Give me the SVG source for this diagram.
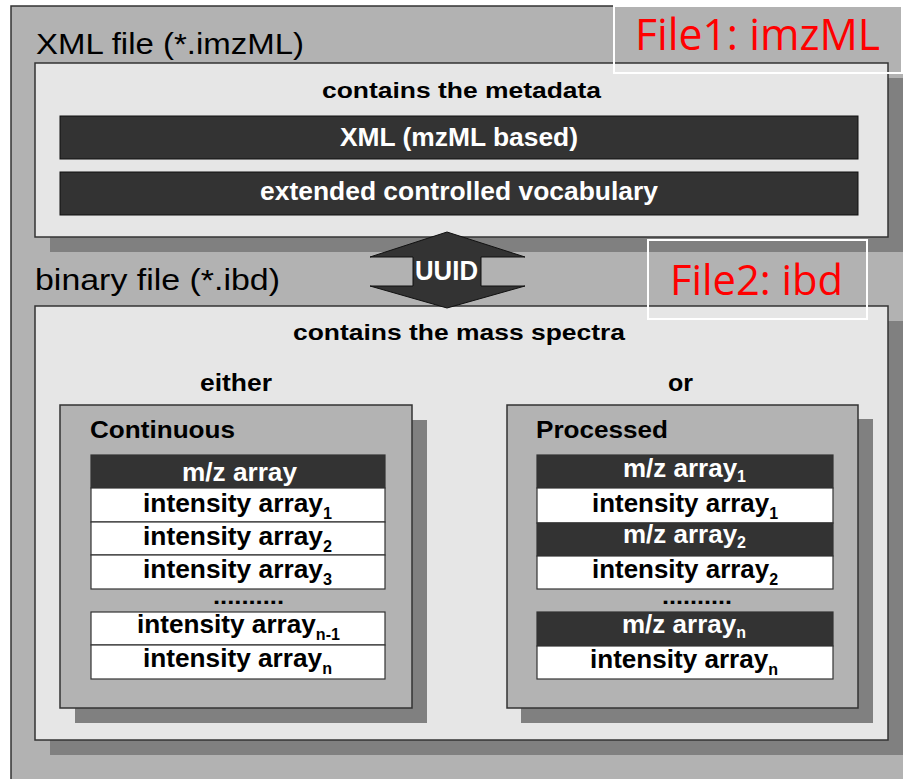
<svg xmlns="http://www.w3.org/2000/svg" width="903" height="779" viewBox="0 0 903 779">
<style>
.frame{fill:#b2b2b2;stroke:#333;stroke-width:1.5}
.panel{fill:#e6e6e6;stroke:#333;stroke-width:1.5}
.shadow{fill:#808080}
.box{fill:#b3b3b3;stroke:#333;stroke-width:1.5}
.bar{fill:#333;stroke:#111;stroke-width:1}
.row{fill:#fff;stroke:#333;stroke-width:1.2}
.drow{fill:#333;stroke:#333;stroke-width:1.2}
.lbl{fill:none;stroke:#fff;stroke-width:2}
text{font-family:"Liberation Sans",Arial,sans-serif}
.h{font-size:30px;fill:#000}
.b{font-weight:bold;fill:#000}
.w{font-weight:bold;fill:#fff}
.t{font-size:26px}
.red{font-family:"Open Sans","Noto Sans",sans-serif;fill:#f00}
.sub{font-size:16px}
</style>
<rect width="903" height="779" fill="#fff"/>
<g id="frame">
<rect class="frame" x="11" y="6" width="900" height="790"/>
</g>
<g id="xml-file">
<text class="h" x="36" y="54" textLength="268" lengthAdjust="spacingAndGlyphs">XML file (*.imzML)</text>
<rect class="shadow" x="50" y="78" width="860" height="174"/>
<rect class="panel" x="35" y="63" width="853" height="174"/>
<text class="b" x="322" y="98" font-size="22" textLength="279" lengthAdjust="spacingAndGlyphs">contains the metadata</text>
<g id="xml-bar">
<rect class="bar" x="60" y="116" width="798" height="43"/>
<text class="w" x="340" y="146" font-size="25" textLength="238" lengthAdjust="spacingAndGlyphs">XML (mzML based)</text>
</g>
<g id="vocab-bar">
<rect class="bar" x="60" y="172" width="798" height="43"/>
<text class="w" x="260" y="200" font-size="25" textLength="398" lengthAdjust="spacingAndGlyphs">extended controlled vocabulary</text>
</g>
</g>
<g id="binary-file">
<text class="h" x="35" y="290" textLength="245" lengthAdjust="spacingAndGlyphs">binary file (*.ibd)</text>
<rect class="shadow" x="50" y="321" width="860" height="434"/>
<rect class="panel" x="35" y="306" width="853" height="434"/>
<text class="b" x="293" y="340" font-size="22" textLength="332" lengthAdjust="spacingAndGlyphs">contains the mass spectra</text>
<text class="b" x="200" y="391" font-size="23" textLength="72" lengthAdjust="spacingAndGlyphs">either</text>
<text class="b" x="668" y="391" font-size="23" textLength="25" lengthAdjust="spacingAndGlyphs">or</text>
</g>
<g id="continuous">
<rect class="shadow" x="75" y="420" width="352" height="303"/>
<rect class="box" x="60" y="405" width="352" height="303"/>
<text class="b" x="90" y="438" font-size="23" textLength="145" lengthAdjust="spacingAndGlyphs">Continuous</text>
<rect class="drow" x="91" y="455" width="294" height="33"/>
<rect class="row" x="91" y="488" width="294" height="34"/>
<rect class="row" x="91" y="522" width="294" height="33"/>
<rect class="row" x="91" y="555" width="294" height="34"/>
<rect class="row" x="91" y="612" width="294" height="33"/>
<rect class="row" x="91" y="645" width="294" height="34"/>
<text class="w t" x="182" y="481" textLength="115" lengthAdjust="spacingAndGlyphs">m/z array</text>
<text class="b t" x="143" y="512" textLength="189" lengthAdjust="spacingAndGlyphs">intensity array<tspan class="sub" dy="7">1</tspan></text>
<text class="b t" x="143" y="545" textLength="189" lengthAdjust="spacingAndGlyphs">intensity array<tspan class="sub" dy="7">2</tspan></text>
<text class="b t" x="143" y="578" textLength="189" lengthAdjust="spacingAndGlyphs">intensity array<tspan class="sub" dy="7">3</tspan></text>
<text class="b" x="213" y="604" font-size="22" textLength="71" lengthAdjust="spacingAndGlyphs">..........</text>
<text class="b t" x="137" y="633" textLength="203" lengthAdjust="spacingAndGlyphs">intensity array<tspan class="sub" dy="7">n-1</tspan></text>
<text class="b t" x="143" y="667" textLength="189" lengthAdjust="spacingAndGlyphs">intensity array<tspan class="sub" dy="7">n</tspan></text>
</g>
<g id="processed">
<rect class="shadow" x="521" y="419" width="352" height="304"/>
<rect class="box" x="507" y="405" width="351" height="303"/>
<text class="b" x="536" y="438" font-size="23" textLength="132" lengthAdjust="spacingAndGlyphs">Processed</text>
<rect class="drow" x="537" y="455" width="296" height="33"/>
<rect class="row" x="537" y="488" width="296" height="35"/>
<rect class="drow" x="537" y="523" width="296" height="33"/>
<rect class="row" x="537" y="556" width="296" height="33"/>
<rect class="drow" x="537" y="612" width="296" height="34"/>
<rect class="row" x="537" y="646" width="296" height="33"/>
<text class="w t" x="623" y="477" textLength="123" lengthAdjust="spacingAndGlyphs">m/z array<tspan class="sub" dy="5">1</tspan></text>
<text class="b t" x="592" y="512" textLength="186" lengthAdjust="spacingAndGlyphs">intensity array<tspan class="sub" dy="7">1</tspan></text>
<text class="w t" x="623" y="543" textLength="123" lengthAdjust="spacingAndGlyphs">m/z array<tspan class="sub" dy="5">2</tspan></text>
<text class="b t" x="592" y="578" textLength="186" lengthAdjust="spacingAndGlyphs">intensity array<tspan class="sub" dy="7">2</tspan></text>
<text class="b" x="662" y="604" font-size="22" textLength="70" lengthAdjust="spacingAndGlyphs">..........</text>
<text class="w t" x="622" y="633" textLength="124" lengthAdjust="spacingAndGlyphs">m/z array<tspan class="sub" dy="5">n</tspan></text>
<text class="b t" x="590" y="668" textLength="188" lengthAdjust="spacingAndGlyphs">intensity array<tspan class="sub" dy="7">n</tspan></text>
</g>
<g id="connectors">
<polygon points="447,232 525,257 481,257 481,286 525,286 447,308 370,286 413,286 413,257 370,257" fill="#333" stroke="#111" stroke-width="1"/>
<text class="w" x="415" y="280" font-size="27" textLength="63" lengthAdjust="spacingAndGlyphs">UUID</text>
</g>
<g id="label-file1">
<rect class="lbl" x="614" y="6" width="288" height="67"/>
<text class="red" x="635" y="50" font-size="43" textLength="245" lengthAdjust="spacingAndGlyphs">File1: imzML</text>
</g>
<g id="label-file2">
<rect class="lbl" x="648" y="240" width="219" height="79"/>
<text class="red" x="670" y="295" font-size="42" textLength="173" lengthAdjust="spacingAndGlyphs">File2: ibd</text>
</g>
</svg>
